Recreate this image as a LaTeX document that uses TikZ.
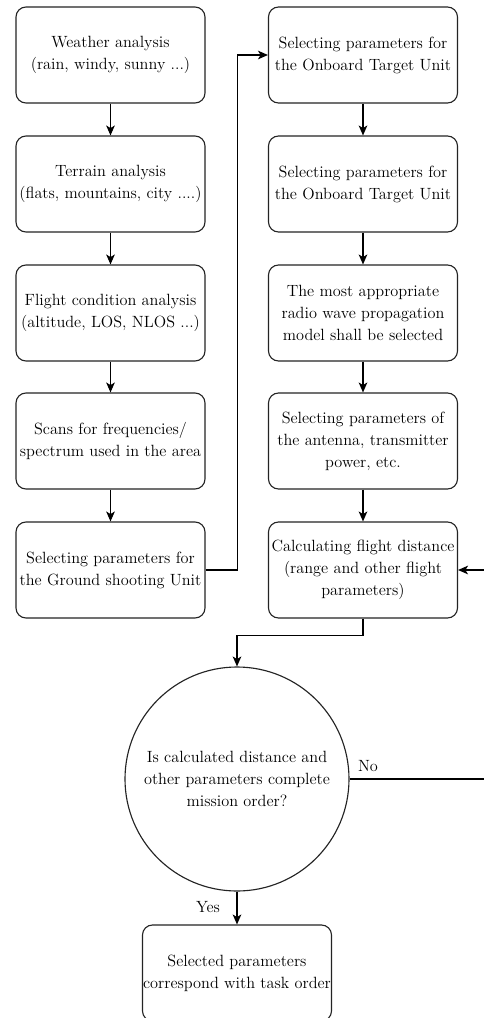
\documentclass[tikz,border=0pt]{standalone}
\usetikzlibrary{arrows.meta}
\definecolor{mydark}{RGB}{35,35,35}
\tikzstyle{stage}=[draw=mydark,rectangle,rounded corners=7.5pt,minimum width=141.75pt,minimum height=72pt,inner sep=0pt,align=center,font=\fontsize{12.2}{16.5}\selectfont]
\tikzstyle{tag}=[inner sep=1pt,font=\fontsize{12.2}{16.5}\selectfont]

\begin{document}
\begin{tikzpicture}[x=0.75pt,y=-0.75pt,line width=0.85pt,>={Stealth[length=7.5pt,width=6.5pt,inset=2pt]}]
\tikzstyle{decision}=[draw=mydark,circle,minimum size=168pt,inner sep=0pt,align=center,font=\fontsize{12.2}{16.5}\selectfont]
\useasboundingbox (0,0) rectangle (484,1018);
\draw (110.5, 55) node [stage] (n1) {Weather analysis\\(rain, windy, sunny ...)};
\draw (110.5, 184) node [stage] (n2) {Terrain analysis\\(flats, mountains, city ....)};
\draw (110.5, 313) node [stage] (n3) {Flight condition analysis\\(altitude, LOS, NLOS ...)};
\draw (110.5, 441) node [stage] (n4) {Scans for frequencies/\\spectrum used in the area};
\draw (110.5, 570) node [stage] (n5) {Selecting parameters for\\the Ground shooting Unit};
\draw (363, 55) node [stage] (n6) {Selecting parameters for\\the Onboard Target Unit};
\draw (363, 184) node [stage] (n7) {Selecting parameters for\\the Onboard Target Unit};
\draw (363, 313) node [stage] (n8) {The most appropriate\\radio wave propagation\\model shall be selected};
\draw (363, 441) node [stage] (n9) {Selecting parameters of\\the antenna, transmitter\\power, etc.};
\draw (363, 570) node [stage] (n10) {Calculating flight distance\\(range and other flight\\parameters)};
\draw (237, 779) node [decision] (q) {Is calculated distance and\\other parameters complete\\mission order?};
\draw (237, 973) node [stage] (n11) {Selected parameters\\correspond with task order};
\draw (368, 766) node [tag] (no) {No};
\draw (208, 907) node [tag] (yes) {Yes};
\draw[->] (n1) -- (n2);
\draw[->] (n2) -- (n3);
\draw[->] (n3) -- (n4);
\draw[->] (n4) -- (n5);
\draw[->] (n5.east) -- ++(32,0) |- (n6.west);
\draw[->] (n6) -- (n7);
\draw[->] (n7) -- (n8);
\draw[->] (n8) -- (n9);
\draw[->] (n9) -- (n10);
\draw[->] (n10.south) -- ++(0,17) -| (q.north);
\draw[->] (q.east) -- ++(150,0) |- (n10.east);
\draw[->] (q.south) -- (n11.north);
\end{tikzpicture}
\end{document}
